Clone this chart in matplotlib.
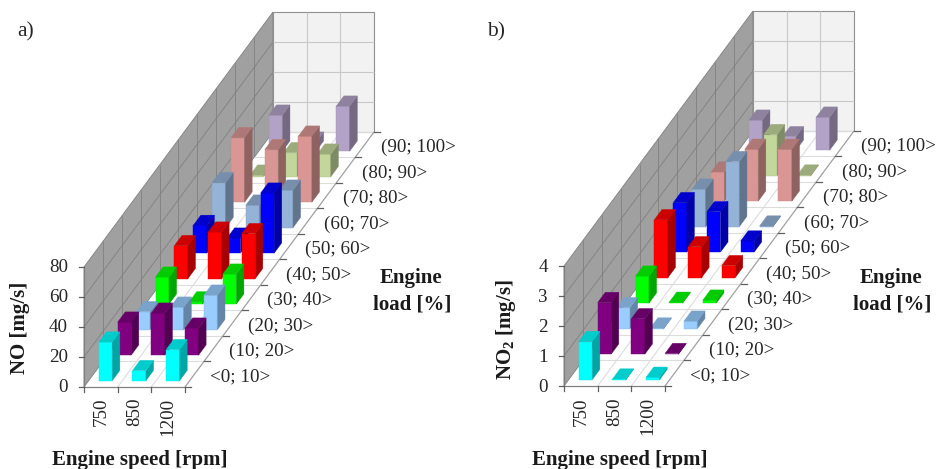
import matplotlib
matplotlib.use('Agg')
import matplotlib.pyplot as plt
from matplotlib.colors import to_rgb

plt.rcParams['font.family'] = ['Liberation Serif', 'DejaVu Serif']
plt.rcParams['mathtext.fontset'] = 'custom'
plt.rcParams['mathtext.rm'] = 'Liberation Serif'
plt.rcParams['mathtext.bf'] = 'Liberation Serif:bold'

speeds = ['750', '850', '1200']
loads = ['<0; 10>', '(10; 20>', '(20; 30>', '(30; 40>', '(40; 50>',
         '(50; 60>', '(60; 70>', '(70; 80>', '(80; 90>', '(90; 100>']
row_colors = ['#00FFFF', '#800080', '#99CCFF', '#00FF00', '#FF0000',
              '#0000FF', '#95B3D7', '#D99694', '#C3D69B', '#B3A2C7']

# one row per load bin, columns are 750, 850, 1200 rpm
no_values = [
    [25.7, 6.7, 20.7],
    [22, 28, 18],
    [12, 15, 23],
    [18, 1.5, 20],
    [22, 31, 30],
    [18.5, 10, 40],
    [30, 15, 25],
    [43, 35, 44],
    [1, 16, 15],
    [24, 6, 30],
]
no2_values = [
    [1.27, 0.02, 0.08],
    [1.72, 1.18, 0.02],
    [0.7, 0.02, 0.25],
    [0.9, 0.03, 0.1],
    [1.93, 1.03, 0.4],
    [1.65, 1.35, 0.37],
    [1.25, 2.17, 0.02],
    [0.97, 1.73, 1.73],
    [0, 1.37, 0.02],
    [1.0, 0.45, 1.1],
]
no_ticks = [0, 20, 40, 60, 80]
no2_ticks = [0, 1, 2, 3, 4]

# pixel size of the oblique box
CELL_W = 33.67
DEPTH_X = 18.9
DEPTH_Y = 25.5
BOX_H = 120
TXT = '#262626'
BOLD = '#1a1a1a'
GRID = '#c8c8c8'
TICK_FS = 13.7


def shade(color, k):
    return tuple(c * k for c in to_rgb(color))


def draw_panel(ax, x0, y0, values, zticks, ylabel, ylabel_x, ylabel_y, letter, letter_x):
    zmax = zticks[-1]

    # oblique projection, u along speed, v along load, z up
    def proj(u, v, z=0):
        return (x0 + u * CELL_W + v * DEPTH_X,
                y0 - v * DEPTH_Y - z / zmax * BOX_H)

    def poly(pts, zorder=1, **kw):
        xs, ys = zip(*[proj(*p) for p in pts])
        ax.fill(xs, ys, zorder=zorder, **kw)

    def line(a, b, **kw):
        (xa, ya), (xb, yb) = proj(*a), proj(*b)
        ax.plot([xa, xb], [ya, yb], solid_capstyle='butt', zorder=2, **kw)

    nu, nv = len(speeds), len(loads)

    # walls
    poly([(0, 0, 0), (0, nv, 0), (0, nv, zmax), (0, 0, zmax)], fc='#a0a0a0', ec='#808080', lw=0.6)
    poly([(0, nv, 0), (nu, nv, 0), (nu, nv, zmax), (0, nv, zmax)], fc='#f2f2f2', ec='#909090', lw=0.8)

    for z in zticks[1:-1]:
        line((0, 0, z), (0, nv, z), color='#808080', lw=0.6)
        line((0, nv, z), (nu, nv, z), color=GRID, lw=0.8)
    for v in range(1, nv):
        line((0, v, 0), (0, v, zmax), color='#808080', lw=0.6)
    for u in range(1, nu):
        line((u, nv, 0), (u, nv, zmax), color=GRID, lw=0.8)

    # floor grid
    for v in range(1, nv + 1):
        line((0, v), (nu, v), color='#dcdcdc', lw=0.8)
    for u in range(1, nu):
        line((u, 0), (u, nv), color='#dcdcdc', lw=0.8)

    # axes lines and ticks
    line((0, 0), (nu, 0), color='#808080', lw=0.9)
    line((nu, 0), (nu, nv), color='#a0a0a0', lw=0.9)
    line((0, 0, 0), (0, 0, zmax), color='#808080', lw=0.9)
    for u in range(nu + 1):
        x, y = proj(u, 0)
        ax.plot([x, x], [y, y + 5], color='#606060', lw=0.9)
    for z in zticks:
        x, y = proj(0, 0, z)
        ax.plot([x - 5, x], [y, y], color='#606060', lw=0.9)
        ax.text(x - 16, y + 1, str(z), ha='right', va='center', fontsize=TICK_FS, color=TXT)
    for v in range(nv + 1):
        x, y = proj(nu, v)
        ax.plot([x, x + 6], [y, y], color='#606060', lw=0.9)

    # bars, back row first
    order = 3
    for v in range(nv - 1, -1, -1):
        col = row_colors[v]
        for u in range(nu):
            z = values[v][u]
            if z <= 0:
                continue
            a, b = u + 0.3, u + 0.7
            c, d = v + 0.25, v + 0.65
            poly([(a, c, 0), (b, c, 0), (b, c, z), (a, c, z)], zorder=order, fc=col, ec=shade(col, 0.9), lw=0.3)
            poly([(b, c, 0), (b, d, 0), (b, d, z), (b, c, z)], zorder=order, fc=shade(col, 0.65), ec=shade(col, 0.65), lw=0.3)
            poly([(a, c, z), (b, c, z), (b, d, z), (a, d, z)], zorder=order, fc=shade(col, 0.8), ec=shade(col, 0.8), lw=0.3)
            order += 1

    # tick labels
    for u, s in enumerate(speeds):
        x, y = proj(u + 0.5, 0)
        ax.text(x, y + 11, s, rotation=90, ha='center', va='top', fontsize=TICK_FS, color=TXT)
    for v, s in enumerate(loads):
        x, y = proj(nu, v + 0.5)
        ax.text(x + 16, y + 3, s, ha='left', va='center', fontsize=TICK_FS, color=TXT)

    # titles
    ax.text(ylabel_x, ylabel_y, ylabel, rotation=90, ha='center', va='center', fontsize=15, fontweight='bold', color=BOLD)
    ax.text(x0 + 56, 460, 'Engine speed [rpm]', ha='center', va='center', fontsize=15, fontweight='bold', color=BOLD)
    ax.text(x0 + 327, 278, 'Engine', ha='center', va='center', fontsize=15, fontweight='bold', color=BOLD)
    ax.text(x0 + 328, 304, 'load [%]', ha='center', va='center', fontsize=15, fontweight='bold', color=BOLD)
    ax.text(letter_x, 32, letter, ha='left', va='center', fontsize=15.5, color=TXT)


fig = plt.figure(figsize=(9.37, 4.69), dpi=100)
ax = fig.add_axes([0, 0, 1, 1])
ax.set_xlim(0, 937)
ax.set_ylim(469, 0)
ax.axis('off')

draw_panel(ax, 84, 387, no_values, no_ticks, 'NO [mg/s]', 20, 328, 'a)', 17)
draw_panel(ax, 564, 386, no2_values, no2_ticks, r'NO$_{\mathbf{2}}$ [mg/s]', 506, 330, 'b)', 487)

fig.savefig('out.png', dpi=100)
